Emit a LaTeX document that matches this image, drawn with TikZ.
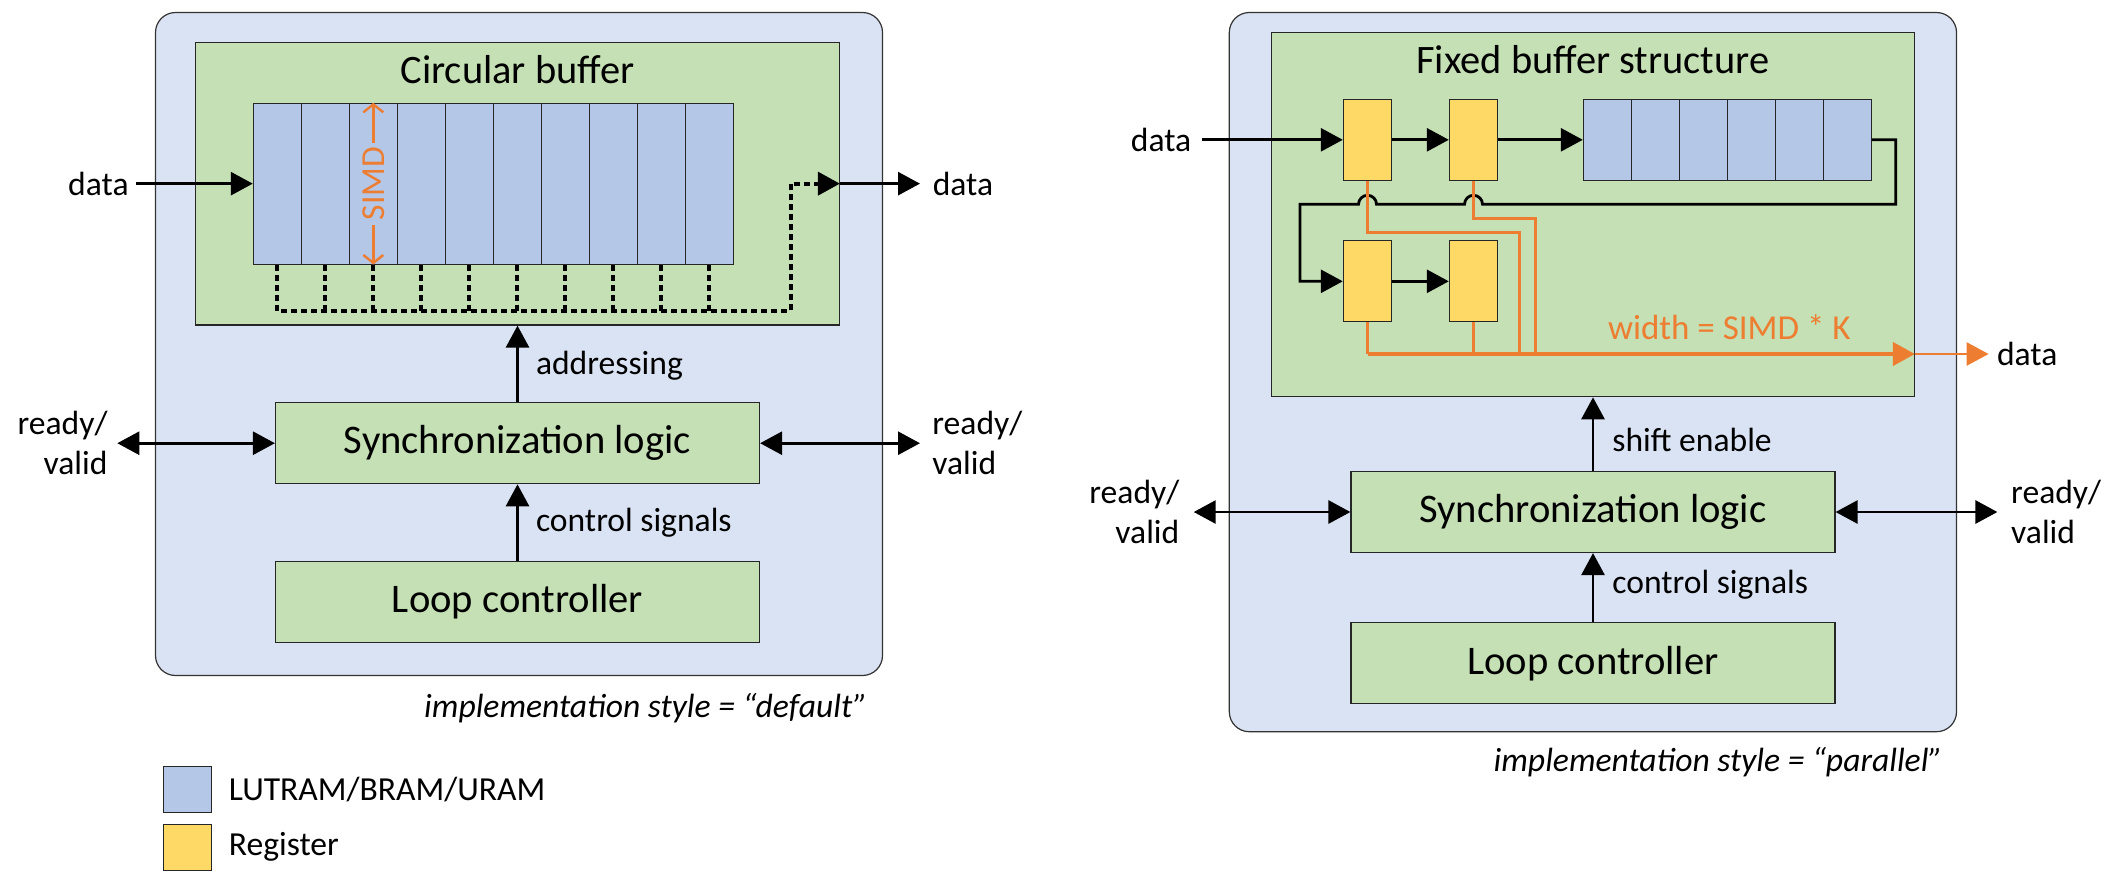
\documentclass[tikz,border=0pt]{standalone}
\usepackage{fontspec}
\setmainfont{Carlito}
\usetikzlibrary{arrows.meta,positioning}

\definecolor{fondbleu}{HTML}{DAE3F3}
\definecolor{fondvert}{HTML}{C5E0B4}
\definecolor{memoire}{HTML}{B4C7E7}
\definecolor{registre}{HTML}{FFD966}
\definecolor{fil}{HTML}{ED7D31}

\tikzset{
  cadre/.style={draw=black!80, line width=0.6pt, fill=fondbleu, rounded corners=10pt},
  zone/.style={draw=black!85, line width=0.6pt, fill=fondvert, inner sep=0pt},
  bloc/.style={zone, minimum width=242pt, minimum height=40.5pt, font=\fontsize{20.3}{24}\selectfont},
  titre/.style={font=\fontsize{20.2}{24}\selectfont, inner sep=0pt},
  case/.style={draw=black!85, line width=0.5pt, fill=memoire, minimum width=24pt, minimum height=40.5pt, inner sep=0pt},
  reg/.style={draw=black!85, line width=0.5pt, fill=registre, minimum width=24.2pt, minimum height=40.5pt, inner sep=0pt},
  etiq/.style={font=\fontsize{16.8}{20}\selectfont, inner sep=0pt},
  legende/.style={etiq, font=\fontsize{16.8}{20}\selectfont\itshape},
  fleche/.style={->, line width=1.4pt},
  pointille/.style={line width=1.9pt, dash pattern=on 3pt off 2pt},
  ofil/.style={draw=fil, line width=1.6pt},
  simdfl/.style={draw=fil, line width=1.2pt, -{Straight Barb[length=4pt,width=10pt]}}
}

\begin{document}
\begin{tikzpicture}[x=0.5pt, y=-0.5pt, >={Triangle[length=11pt,width=11.5pt]}]
\useasboundingbox (0,0) rectangle (2113,880);

% Style default
\draw[cadre] (155.5,12.5) rectangle (882.5,675.5);
\node[zone, minimum width=321.8pt, minimum height=141.35pt] (cb) at (517.5,183.65) {};
\node[titre] (cbtitre) at (517.5,70) {Circular buffer};

% Cases du buffer circulaire
\foreach \i in {1,...,10}
  \node[case, minimum height=80.35pt] (c\i) at ({229.3+48*\i},183.65) {};

% SIMD
\node[etiq, text=fil, rotate=90, inner sep=2pt] (simd) at (c3) {SIMD};
\draw[simdfl] (simd.east) -- (c3.north);
\draw[simdfl] (simd.west) -- (c3.south);

% Lecture en pointilles
\coordinate (bus) at (0,310.7);
\coordinate (coude) at (790.7,183.65);
\foreach \i in {2,...,10}
  \draw[pointille] (c\i.south) -- (c\i.south |- bus);
\draw[pointille, ->] (c1.south) |- (coude |- bus) -- (coude) -- (cb.east);

% Entree et sortie
\node[etiq, anchor=east, inner xsep=3.5pt] (din) at (136,183.65) {data};
\draw[fleche] (din.east) -- (c1.west);
\node[etiq, anchor=west, inner xsep=6.2pt] (dout) at (920,183.65) {data};
\draw[fleche] (cb.east) -- (dout.west);

% Blocs de controle
\node[bloc] (sync1) at (517.5,443.2) {Synchronization logic};
\node[bloc] (boucle1) at (517.5,602) {Loop controller};
\draw[fleche] (sync1.north) -- (cb.south);
\draw[fleche] (boucle1.north) -- (sync1.south);
\node[etiq, anchor=west] (adr) at (535.6,366) {addressing};
\node[etiq, anchor=west] (ctrl1) at (535.6,523) {control signals};

% ready/valid
\node[etiq, anchor=east, align=right, inner xsep=4.7pt] (rv1) at (117.3,443.2) {ready/\\valid};
\draw[fleche, <->] (rv1.east) -- (sync1.west);
\node[etiq, anchor=west, align=left, inner xsep=6pt] (rv2) at (920,443.2) {ready/\\valid};
\draw[fleche, <->] (sync1.east) -- (rv2.west);

\node[legende, anchor=east] (style1) at (868,708) {implementation style = “default”};

% Legende
\node[case, minimum height=23.15pt] (leg1) at (187.3,789.15) {};
\node[reg, minimum width=24pt, minimum height=23pt] (leg2) at (187.3,847) {};
\node[etiq, right=8.35pt of leg1] (legt1) {LUTRAM/BRAM/URAM};
\node[etiq, right=8.35pt of leg2] (legt2) {Register};

% Style parallel
\draw[cadre] (1229.3,12.5) rectangle (1956.5,731.7);
\node[zone, minimum width=321.5pt, minimum height=182.2pt] (fbs) at (1592.8,214.5) {};
\node[titre] (fbstitre) at (1592.8,60) {Fixed buffer structure};

% Registres et memoire
\node[reg] (r1) at (1367.5,139.8) {};
\node[reg] (r2) at (1473.5,139.8) {};
\node[reg] (r3) at (1367.5,281.3) {};
\node[reg] (r4) at (1473.5,281.3) {};
\foreach \i in {1,...,6}
  \node[case] (b\i) at ({1559.3+48*\i},139.8) {};

% Chaine de decalage
\node[etiq, anchor=east, inner xsep=5pt] (din2) at (1201.7,139.8) {data};
\draw[fleche] (din2.east) -- (r1.west);
\draw[fleche] (r1.east) -- (r2.west);
\draw[fleche] (r2.east) -- (b1.west);
\coordinate (retour) at (1895.7,204.3);
\coordinate (saut2) at (1482.5,204.3);
\coordinate (saut1) at (1376.5,204.3);
\coordinate (gauche) at (1300,204.3);
\draw[fleche] (b6.east) -| (retour) -- (saut2)
  arc[start angle=0, end angle=-180, radius=9] -- (saut1)
  arc[start angle=0, end angle=-180, radius=9] -- (gauche) |- (r3.west);
\draw[fleche] (r3.east) -- (r4.west);

% Sortie parallele
\coordinate (obus) at (1367.5,354);
\coordinate (o1) at (1519.3,232.3);
\coordinate (o2) at (1535.7,218.3);
\draw[ofil] (r1.south) |- (o1) -- (o1 |- obus);
\draw[ofil] (r2.south) |- (o2) -- (o2 |- obus);
\draw[ofil] (r3.south) -- (r3.south |- obus);
\draw[ofil] (r4.south) -- (r4.south |- obus);
\draw[ofil, line width=2pt, ->] (obus) -- (obus -| fbs.east);
\node[etiq, anchor=west, inner xsep=4pt] (dout2) at (1988.6,354) {data};
\draw[ofil, line width=1.3pt, ->] (obus -| fbs.east) -- (dout2.west);
\node[etiq, text=fil, anchor=west, font=\fontsize{17.5}{21}\selectfont] (largeur) at (1607.6,327) {width = SIMD * K};

% Blocs de controle
\node[bloc] (sync2) at (1593,512) {Synchronization logic};
\node[bloc] (boucle2) at (1593,663.2) {Loop controller};
\draw[fleche] (sync2.north) -- (sync2.north |- fbs.south);
\draw[fleche] (boucle2.north) -- (sync2.south);
\node[etiq, anchor=west] (shift) at (1612,440) {shift enable};
\node[etiq, anchor=west] (ctrl2) at (1612,585) {control signals};

% ready/valid
\node[etiq, anchor=east, align=right, inner xsep=7pt] (rv3) at (1193.7,512) {ready/\\valid};
\draw[fleche, <->] (rv3.east) -- (sync2.west);
\node[etiq, anchor=west, align=left, inner xsep=6.7pt] (rv4) at (1997.4,512) {ready/\\valid};
\draw[fleche, <->] (sync2.east) -- (rv4.west);

\node[legende, anchor=east] (style2) at (1943,761.7) {implementation style = “parallel”};

\end{tikzpicture}
\end{document}
